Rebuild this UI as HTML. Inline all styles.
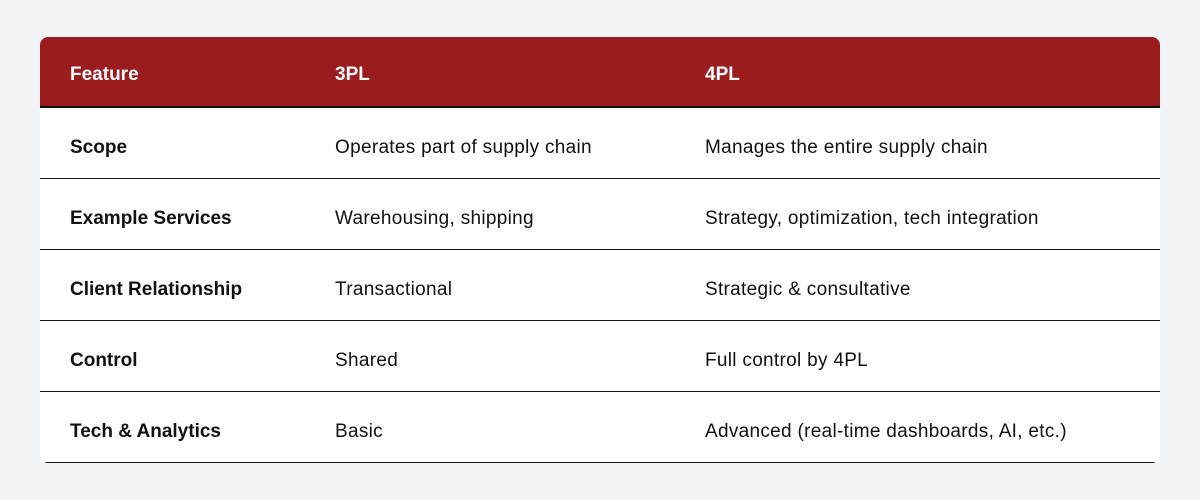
<!DOCTYPE html>
<html><head><style>
html,body{margin:0;padding:0;background:#f3f4f6;width:1200px;height:500px;overflow:hidden}
.card{position:absolute;left:40px;top:37px;width:1120px;height:426px;background:#fff;border-radius:8px;overflow:hidden}
.head{position:absolute;left:0;top:0;width:1120px;height:69px;background:#9b1c1f;border-bottom:2px solid #111}
.t{position:absolute;font-family:"Liberation Sans",sans-serif;font-size:19px;letter-spacing:0.3px;color:#111;line-height:20px;white-space:nowrap}
.h{color:#fff;font-weight:bold;letter-spacing:0}
.b{font-weight:bold;letter-spacing:0}
.line{position:absolute;left:0;width:1120px;height:1px;background:#111}
</style></head><body>
<div class="card">
<div class="head"></div>
<div class="t h" style="left:30px;top:28px">Feature</div>
<div class="t h" style="left:295px;top:28px">3PL</div>
<div class="t h" style="left:665px;top:28px">4PL</div>

<div class="t b" style="left:30px;top:101px">Scope</div>
<div class="t" style="left:295px;top:101px">Operates part of supply chain</div>
<div class="t" style="left:665px;top:101px">Manages the entire supply chain</div>
<div class="line" style="top:141px"></div>

<div class="t b" style="left:30px;top:172px">Example Services</div>
<div class="t" style="left:295px;top:172px">Warehousing, shipping</div>
<div class="t" style="left:665px;top:172px">Strategy, optimization, tech integration</div>
<div class="line" style="top:212px"></div>

<div class="t b" style="left:30px;top:243px">Client Relationship</div>
<div class="t" style="left:295px;top:243px">Transactional</div>
<div class="t" style="left:665px;top:243px">Strategic &amp; consultative</div>
<div class="line" style="top:283px"></div>

<div class="t b" style="left:30px;top:314px">Control</div>
<div class="t" style="left:295px;top:314px">Shared</div>
<div class="t" style="left:665px;top:314px">Full control by 4PL</div>
<div class="line" style="top:354px"></div>

<div class="t b" style="left:30px;top:385px">Tech &amp; Analytics</div>
<div class="t" style="left:295px;top:385px">Basic</div>
<div class="t" style="left:665px;top:385px">Advanced (real-time dashboards, AI, etc.)</div>
<div class="line" style="top:425px"></div>
</div>
</body></html>
